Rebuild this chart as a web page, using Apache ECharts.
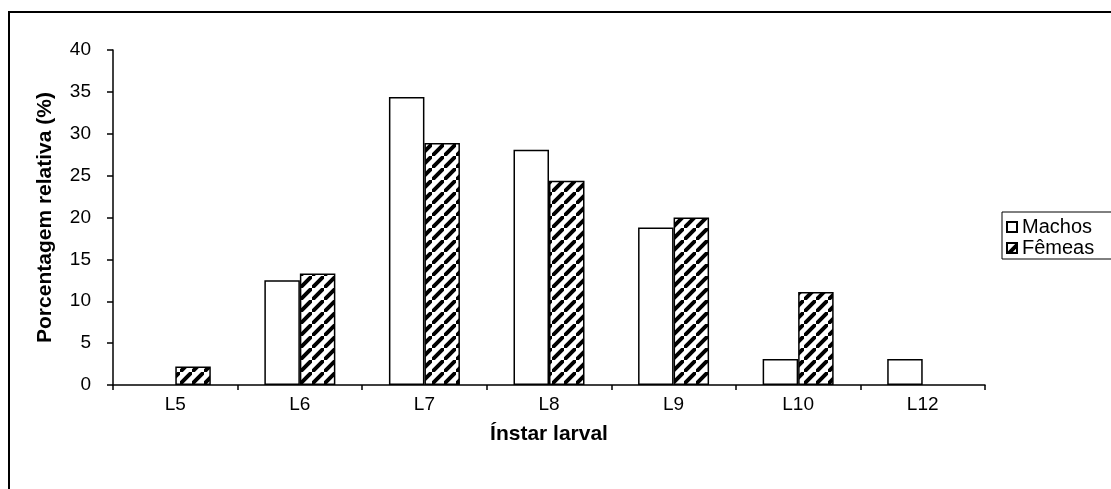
<!DOCTYPE html>
<html>
<head>
<meta charset="utf-8">
<script src="https://cdn.jsdelivr.net/npm/echarts@6/dist/echarts.min.js"></script>
<style>
  html, body { margin: 0; padding: 0; background: #fff; }
  #chart { width: 1111px; height: 489px; }
</style>
</head>
<body>
<div id="chart"></div>
<script>
// Larval instar distribution by sex (relative percentage)
const categories = ['L5', 'L6', 'L7', 'L8', 'L9', 'L10', 'L12'];
const machos = [0, 12.5, 34.4, 28.1, 18.8, 3.1, 3.1];
const femeas = [2.2, 13.3, 28.9, 24.4, 20.0, 11.1, 0];
const yTicks = { min: 0, max: 40, interval: 5 };

const FONT = '"Liberation Sans", Arial, sans-serif';

// Diagonal "/" hatch tile for the female bars
function hatchTile() {
  const s = 12;
  const c = document.createElement('canvas');
  c.width = s; c.height = s;
  const g = c.getContext('2d');
  g.fillStyle = '#fff';
  g.fillRect(0, 0, s, s);
  g.strokeStyle = '#000';
  g.lineWidth = 4;
  g.beginPath();
  g.moveTo(-s, s * 2); g.lineTo(s * 2, -s);
  g.moveTo(-s * 2, s); g.lineTo(s, -s * 2);
  g.moveTo(0, s * 3); g.lineTo(s * 3, 0);
  g.stroke();
  return c;
}

// Empty classes get no outline, so no stray line sits on the baseline
function barData(values) {
  return values.map(v => v === 0 ? { value: v, itemStyle: { borderWidth: 0 } } : v);
}

const chart = echarts.init(document.getElementById('chart'), null, { renderer: 'canvas' });

chart.setOption({
  animation: false,
  backgroundColor: '#fff',
  textStyle: { fontFamily: FONT, color: '#000' },
  graphic: [{
    type: 'rect',
    shape: { x: 9, y: 12, width: 1300, height: 700 },
    style: { fill: null, stroke: '#000', lineWidth: 2 },
    silent: true,
    z: 100
  }],
  grid: { left: 113, right: 126, top: 50, bottom: 104 },
  legend: {
    orient: 'vertical',
    left: 1002,
    top: 212,
    padding: [5, 40, 1, 4],
    icon: 'rect',
    itemWidth: 10,
    itemHeight: 10,
    itemGap: 1,
    borderColor: '#000',
    borderWidth: 1,
    textStyle: { fontFamily: FONT, fontSize: 20, lineHeight: 18, color: '#000' },
    data: ['Machos', 'Fêmeas']
  },
  xAxis: {
    type: 'category',
    data: categories,
    boundaryGap: true,
    name: 'Ínstar larval',
    nameLocation: 'middle',
    nameGap: 39,
    nameTextStyle: { fontFamily: FONT, fontSize: 21, fontWeight: 'bold', color: '#000' },
    axisLine: { lineStyle: { color: '#000', width: 1.5 } },
    axisTick: { show: true, inside: false, length: 5, alignWithLabel: false, lineStyle: { color: '#000', width: 1.5 } },
    axisLabel: { fontFamily: FONT, fontSize: 19, color: '#000', margin: 10 },
    splitLine: { show: false }
  },
  yAxis: {
    type: 'value',
    min: yTicks.min,
    max: yTicks.max,
    interval: yTicks.interval,
    name: 'Porcentagem relativa (%)',
    nameLocation: 'middle',
    nameGap: 57,
    nameRotate: 90,
    nameTextStyle: { fontFamily: FONT, fontSize: 21, fontWeight: 'bold', color: '#000' },
    axisLine: { show: true, lineStyle: { color: '#000', width: 1.5 } },
    axisTick: { show: true, inside: false, length: 6, lineStyle: { color: '#000', width: 1.5 } },
    axisLabel: { fontFamily: FONT, fontSize: 19, color: '#000', margin: 22 },
    splitLine: { show: false }
  },
  series: [
    {
      name: 'Machos',
      type: 'bar',
      data: barData(machos),
      barGap: '0%',
      barCategoryGap: '43%',
      itemStyle: { color: '#fff', borderColor: '#000', borderWidth: 1.5 }
    },
    {
      name: 'Fêmeas',
      type: 'bar',
      data: barData(femeas),
      barGap: '0%',
      barCategoryGap: '43%',
      itemStyle: {
        color: { image: hatchTile(), repeat: 'repeat' },
        borderColor: '#000',
        borderWidth: 1.5
      }
    }
  ]
});
</script>
</body>
</html>
